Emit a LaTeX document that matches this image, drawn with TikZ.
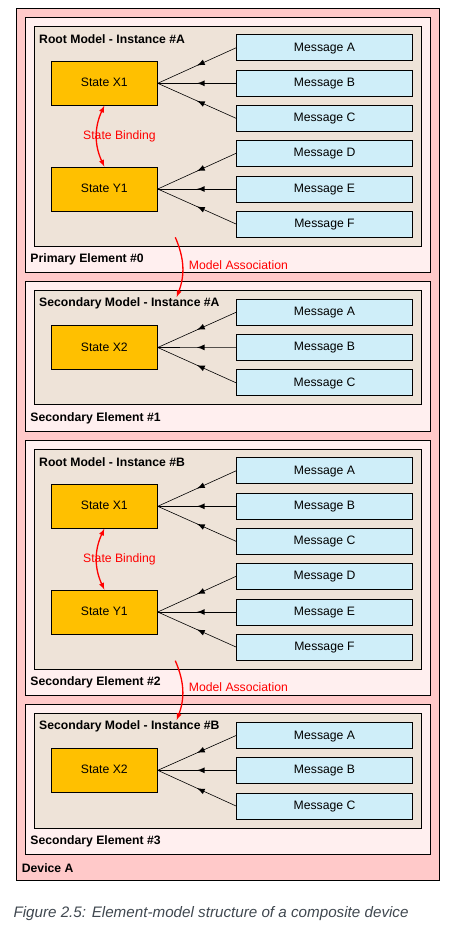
\documentclass[tikz,border=0pt]{standalone}
\usepackage{fontspec}
\setmainfont{Liberation Sans}
\usepackage{tikz}
\usetikzlibrary{arrows}
\usetikzlibrary{decorations.markings}
\usepackage{xcolor}

\definecolor{devfill}{HTML}{FFC9C9}
\definecolor{elemfill}{HTML}{FFEFEF}
\definecolor{modelfill}{HTML}{EEE3D8}
\definecolor{statefill}{HTML}{FFC000}
\definecolor{msgfill}{HTML}{CFEEF9}
\definecolor{capgray}{HTML}{404850}

\tikzset{
  box/.style={draw=black, line width=0.9pt},
  statebox/.style={box, fill=statefill, minimum width=106pt, minimum height=44pt,
    inner sep=0pt, text height=0.72em, text depth=0pt, font=\fontsize{12.2}{14}\selectfont},
  msgbox/.style={box, fill=msgfill, minimum width=176pt, minimum height=26pt,
    inner sep=0pt, text height=0.72em, text depth=0pt, font=\fontsize{12.2}{14}\selectfont},
  title/.style={anchor=west, inner sep=0pt, font=\fontsize{12.2}{14}\selectfont\bfseries},
  redlabel/.style={anchor=west, inner sep=0pt, text=red, font=\fontsize{12.2}{14}\selectfont},
  msgline/.style={draw, line width=0.6pt, postaction={decorate},
    decoration={markings, mark=at position 0.5 with {\arrow[scale=1.7]{latex}}}},
  binding/.style={red, line width=1.3pt, {latex[scale=1.3]}-{latex[scale=1.3]}, bend right=25},
  assoc/.style={red, line width=1.3pt, -{latex[scale=1.3]}, bend left=22}
}

\begin{document}
\begin{tikzpicture}[x=1pt, y=-1pt]
     \useasboundingbox (0,0) rectangle (449,927);
     % containers
     \draw[box, fill=devfill] (16.5,8.5) rectangle (439.5,880);
     \draw[box, fill=elemfill] (25.5,17.5) rectangle (430.5,272.5);
     \draw[box, fill=modelfill] (34.5,26.5) rectangle (421.5,246.5);
     \draw[box, fill=elemfill] (25.5,281.5) rectangle (430.5,431.5);
     \draw[box, fill=modelfill] (34.5,290.5) rectangle (421.5,404);
     \draw[box, fill=elemfill] (25.5,440.5) rectangle (430.5,695.5);
     \draw[box, fill=modelfill] (34.5,449.5) rectangle (421.5,669.5);
     \draw[box, fill=elemfill] (25.5,704.5) rectangle (430.5,854);
     \draw[box, fill=modelfill] (34.5,713.5) rectangle (421.5,828.5);

     \node[title] (devlbl) at (21.7,868) {Device A};
     \node[title] (elem0) at (30.3,259.3) {Primary Element \#0};
     \node[title] (elem1) at (30.3,418.7) {Secondary Element \#1};
     \node[title] (elem2) at (30.3,682.7) {Secondary Element \#2};
     \node[title] (elem3) at (30.3,841.3) {Secondary Element \#3};
     \node[title] (modelA) at (39,39.3) {Root Model - Instance \#A};
     \node[title] (secA) at (39,303.3) {Secondary Model - Instance \#A};
     \node[title] (modelB) at (39,462.3) {Root Model - Instance \#B};
     \node[title] (secB) at (39,726.7) {Secondary Model - Instance \#B};

     % root model A
     \node[statebox] (x1a) at (104.3,83.3) {State X1};
     \node[statebox] (y1a) at (104.3,189) {State Y1};
     \node[msgbox] (ma) at (324.5,47.8) {Message A};
     \node[msgbox] (mb) at (324.5,83.3) {Message B};
     \node[msgbox] (mc) at (324.5,118.3) {Message C};
     \node[msgbox] (md) at (324.5,153.3) {Message D};
     \node[msgbox] (me) at (324.5,189) {Message E};
     \node[msgbox] (mf) at (324.5,224) {Message F};
     \draw[msgline] (ma.west) -- (x1a.east);
     \draw[msgline] (mb.west) -- (x1a.east);
     \draw[msgline] (mc.west) -- (x1a.east);
     \draw[msgline] (md.west) -- (y1a.east);
     \draw[msgline] (me.west) -- (y1a.east);
     \draw[msgline] (mf.west) -- (y1a.east);
     \draw[binding] (x1a.south) to (y1a.north);
     \node[redlabel] (bindA) at (83,136.7) {State Binding};

     % secondary model A
     \node[statebox] (x2a) at (104.3,347.5) {State X2};
     \node[msgbox] (sma) at (324.5,312.3) {Message A};
     \node[msgbox] (smb) at (324.5,347.3) {Message B};
     \node[msgbox] (smc) at (324.5,382.8) {Message C};
     \draw[msgline] (sma.west) -- (x2a.east);
     \draw[msgline] (smb.west) -- (x2a.east);
     \draw[msgline] (smc.west) -- (x2a.east);

     % root model B
     \node[statebox] (x1b) at (104.3,506.3) {State X1};
     \node[statebox] (y1b) at (104.3,612) {State Y1};
     \node[msgbox] (mab) at (324.5,470.8) {Message A};
     \node[msgbox] (mbb) at (324.5,506.3) {Message B};
     \node[msgbox] (mcb) at (324.5,541.3) {Message C};
     \node[msgbox] (mdb) at (324.5,576.3) {Message D};
     \node[msgbox] (meb) at (324.5,612) {Message E};
     \node[msgbox] (mfb) at (324.5,647) {Message F};
     \draw[msgline] (mab.west) -- (x1b.east);
     \draw[msgline] (mbb.west) -- (x1b.east);
     \draw[msgline] (mcb.west) -- (x1b.east);
     \draw[msgline] (mdb.west) -- (y1b.east);
     \draw[msgline] (meb.west) -- (y1b.east);
     \draw[msgline] (mfb.west) -- (y1b.east);
     \draw[binding] (x1b.south) to (y1b.north);
     \node[redlabel] (bindB) at (83,559.3) {State Binding};

     % secondary model B
     \node[statebox] (x2b) at (104.3,770.3) {State X2};
     \node[msgbox] (smab) at (324.5,735.5) {Message A};
     \node[msgbox] (smbb) at (324.5,770.3) {Message B};
     \node[msgbox] (smcb) at (324.5,806) {Message C};
     \draw[msgline] (smab.west) -- (x2b.east);
     \draw[msgline] (smbb.west) -- (x2b.east);
     \draw[msgline] (smcb.west) -- (x2b.east);

     % model associations
     \coordinate (assocA0) at (175.3,237.3);
     \coordinate (assocA1) at (176.7,297);
     \coordinate (assocB0) at (175.3,660.7);
     \coordinate (assocB1) at (176.7,720);
     \draw[assoc] (assocA0) to (assocA1);
     \draw[assoc] (assocB0) to (assocB1);
     \node[redlabel] (assocAlbl) at (188.7,264.7) {Model Association};
     \node[redlabel] (assocBlbl) at (188.7,687) {Model Association};

     \node[anchor=west, inner sep=0pt, text=capgray, font=\fontsize{15.2}{17}\selectfont\itshape]
        (caption) at (13.3,913.3) {Figure 2.5: Element-model structure of a composite device};
\end{tikzpicture}
\end{document}
